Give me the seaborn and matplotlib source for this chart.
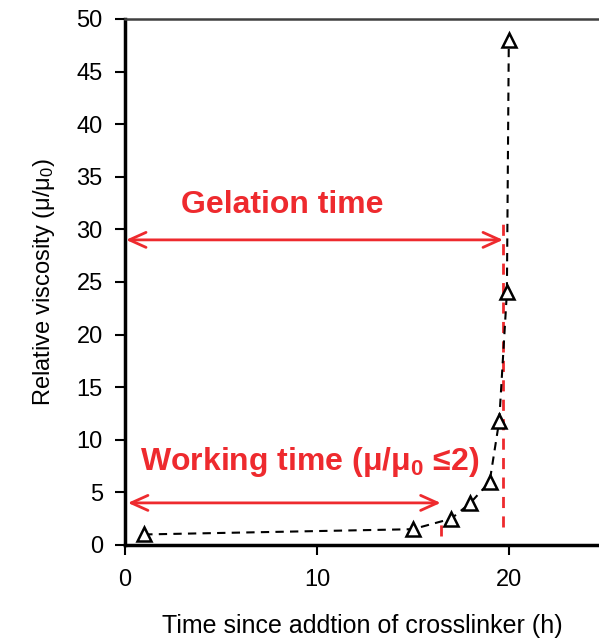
import matplotlib
matplotlib.use("Agg")
import matplotlib.pyplot as plt
import seaborn as sns
import pandas as pd

# Measured viscosity vs time after crosslinker addition
time_h = [1, 15, 17, 18, 19, 19.5, 19.9, 20]
rel_visc = [1.0, 1.5, 2.5, 4.0, 6.0, 11.8, 24.0, 48.0]

x_ticks = [0, 10, 20]
y_ticks = [0, 5, 10, 15, 20, 25, 30, 35, 40, 45, 50]

# Annotation landmarks (h, μ/μ0)
working_end = 16.45
gelation_end = 19.7
gelation_arrow_y = 29.0
working_arrow_y = 4.0

sns.set_theme(style="white")
plt.rcParams["font.family"] = ["Liberation Sans", "DejaVu Sans"]
plt.rcParams["mathtext.fontset"] = "custom"
plt.rcParams["mathtext.rm"] = "Liberation Sans"
plt.rcParams["mathtext.it"] = "Liberation Sans:italic"
plt.rcParams["mathtext.bf"] = "Liberation Sans:bold"

RED = "#EE2A2E"

fig = plt.figure(figsize=(5.99, 6.38), dpi=100)
ax = fig.add_axes([0.2087, 0.1458, 0.7913, 0.8245])

df = pd.DataFrame({"t": time_h, "v": rel_visc})
sns.lineplot(data=df, x="t", y="v", ax=ax, color="black", linestyle=(0, (4, 3)),
             linewidth=1.5, marker="^", markersize=10, markerfacecolor="white",
             markeredgecolor="black", markeredgewidth=1.8, zorder=3)

ax.set_xlim(0, 24.7)
ax.set_ylim(0, 50)
ax.set_xticks(x_ticks)
ax.set_yticks(y_ticks)

# Threshold markers
ax.plot([gelation_end, gelation_end], [1.7, 31], color=RED, linestyle=(0, (4, 3)),
        linewidth=2, zorder=2)
ax.plot([working_end, working_end], [0.9, 2.4], color=RED, linestyle=(0, (4, 3)),
        linewidth=2, zorder=2)

arrow_kw = dict(arrowstyle="<->,head_length=1.0,head_width=0.45", color=RED,
                lw=2, shrinkA=0, shrinkB=0)
ax.annotate("", xy=(gelation_end, gelation_arrow_y), xytext=(0.05, gelation_arrow_y),
            arrowprops=arrow_kw)
ax.annotate("", xy=(working_end, working_arrow_y), xytext=(0.15, working_arrow_y),
            arrowprops=arrow_kw)

ax.text(8.2, 32.3, "Gelation time", color=RED, fontsize=23, fontweight="bold",
        ha="center", va="center")
ax.text(9.6, 7.9, r"Working time (μ/μ$_\mathbf{0}$ ≤2)", color=RED, fontsize=23,
        fontweight="bold", ha="center", va="center")

ax.set_xlabel("Time since addtion of crosslinker (h)", fontsize=18, labelpad=16.5,
              color="black")
ax.set_ylabel(r"Relative viscosity (μ/μ$_0$)", fontsize=17, labelpad=14,
              color="black")

for side in ["left", "bottom"]:
    ax.spines[side].set_color("black")
    ax.spines[side].set_linewidth(2.5)
ax.spines["top"].set_color("#404040")
ax.spines["top"].set_linewidth(1.8)
ax.spines["right"].set_visible(False)

ax.tick_params(axis="both", which="major", direction="out", length=7, width=1.5,
               color="black", labelcolor="black", labelsize=17, bottom=True,
               left=True, pad=9)
ax.tick_params(axis="x", pad=10)

fig.savefig("out.png", dpi=100)
